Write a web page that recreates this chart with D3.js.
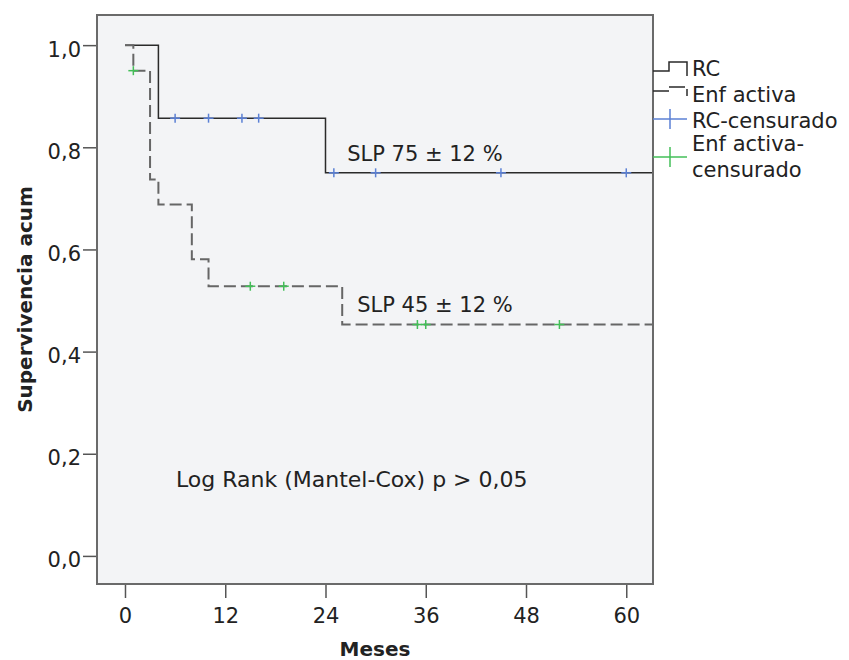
<!DOCTYPE html>
<html>
<head>
<meta charset="utf-8">
<script src="https://cdn.jsdelivr.net/npm/d3@7"></script>
<style>
    body { margin: 0; background: #fff; }
    text { font-family: "DejaVu Sans", sans-serif; fill: #222; }
</style>
</head>
<body>
<svg id="chart" width="849" height="660"></svg>
<script>

// Kaplan-Meier steps (months, cumulative survival)
var rcTimes = [0, 4, 24, 64];
var rcSurv = [1.0, 0.857, 0.75, 0.75];
var rcCensored = [6, 10, 14, 16, 25, 30, 45, 60];

var enfTimes = [0, 1, 3, 4, 8, 10, 26, 64];
var enfSurv = [1.0, 0.95, 0.737, 0.688, 0.581, 0.528, 0.453, 0.453];
var enfCensored = [1, 15, 19, 35, 36, 52];

var xTicks = [0, 12, 24, 36, 48, 60];
var yTicks = [0, 0.2, 0.4, 0.6, 0.8, 1.0];

var legendLabels = ["RC", "Enf activa", "RC-censurado", ["Enf activa-", "censurado"]];

var notes = [
    { t: 26.6, s: 0.773, label: "SLP 75 ± 12 %", size: 21 },
    { t: 27.8, s: 0.477, label: "SLP 45 ± 12 %", size: 21 },
    { t: 6.1, s: 0.134, label: "Log Rank (Mantel-Cox) p > 0,05", size: 22 }
];

var svg = d3.select("#chart");

var frame = { left: 97, right: 653, top: 15, bottom: 584 };

var x = d3.scaleLinear()
    .domain([-3.35, 63.2])
    .range([frame.left, frame.right]);

var y = d3.scaleLinear()
    .domain([-0.055, 1.059])
    .range([frame.bottom, frame.top]);

var comma = d3.formatLocale({ decimal: ",", thousands: ".", grouping: [3], currency: ["", "€"] });

// plot background
svg.append("rect")
    .attr("x", frame.left)
    .attr("y", frame.top)
    .attr("width", frame.right - frame.left)
    .attr("height", frame.bottom - frame.top)
    .style("fill", "#f3f4f6");

svg.append("clipPath")
    .attr("id", "clip")
    .append("rect")
    .attr("x", frame.left)
    .attr("y", frame.top)
    .attr("width", frame.right - frame.left)
    .attr("height", frame.bottom - frame.top);

// axes
var yAxis = svg.append("g")
    .attr("transform", "translate(" + frame.left + ",0)")
    .call(d3.axisLeft(y).tickValues(yTicks).tickSize(14).tickPadding(2)
        .tickFormat(comma.format(".1f")));

var xAxis = svg.append("g")
    .attr("transform", "translate(0," + frame.bottom + ")")
    .call(d3.axisBottom(x).tickValues(xTicks).tickSize(14).tickPadding(10));

[yAxis, xAxis].forEach(function(a) {
    a.select(".domain").remove();
    a.selectAll("line").attr("stroke", "#555").attr("stroke-width", 1.5);
    a.selectAll("text")
        .style("font-family", "DejaVu Sans")
        .style("font-size", "21px")
        .attr("fill", "#222");
});
yAxis.selectAll("text").attr("dy", "0.52em");

// curves
var step = d3.line()
    .x(function(d) { return x(d[0]); })
    .y(function(d) { return y(d[1]); })
    .curve(d3.curveStepAfter);

var curves = svg.append("g").attr("clip-path", "url(#clip)");

curves.append("path")
    .datum(d3.zip(rcTimes, rcSurv))
    .attr("d", step)
    .attr("fill", "none")
    .attr("stroke", "#2a2a2a")
    .attr("stroke-width", 1.5);

curves.append("path")
    .datum(d3.zip(enfTimes, enfSurv))
    .attr("d", step)
    .attr("fill", "none")
    .attr("stroke", "#666")
    .attr("stroke-width", 2)
    .attr("stroke-dasharray", "12,5");

// survival value at a given time for the step curve
function survAt(times, surv, t) {
    var i = d3.bisectRight(times, t) - 1;
    return surv[Math.max(i, 0)];
}

function drawCensor(g, times, surv, list, color) {
    var marks = g.selectAll(null)
        .data(list)
        .enter().append("g")
        .attr("transform", function(d) {
            return "translate(" + x(d) + "," + y(survAt(times, surv, d)) + ")";
        });
    marks.append("line")
        .attr("x1", -5).attr("x2", 5)
        .attr("stroke", color).attr("stroke-width", 1.5);
    marks.append("line")
        .attr("y1", -4.5).attr("y2", 4.5)
        .attr("stroke", color).attr("stroke-width", 1.5);
}

drawCensor(curves, rcTimes, rcSurv, rcCensored, "#5b80d5");
drawCensor(curves, enfTimes, enfSurv, enfCensored, "#43bf58");

// frame on top
svg.append("rect")
    .attr("x", frame.left)
    .attr("y", frame.top)
    .attr("width", frame.right - frame.left)
    .attr("height", frame.bottom - frame.top)
    .style("fill", "none")
    .style("stroke", "#6a6a6a")
    .style("stroke-width", 2);

// annotations
svg.selectAll(".note")
    .data(notes)
    .enter().append("text")
    .attr("class", "note")
    .attr("x", function(d) { return x(d.t); })
    .attr("y", function(d) { return y(d.s); })
    .style("font-size", function(d) { return d.size + "px"; })
    .text(function(d) { return d.label; });

// axis titles
svg.append("text")
    .attr("transform", "translate(32," + ((frame.top + frame.bottom) / 2) + ") rotate(-90)")
    .attr("text-anchor", "middle")
    .style("font-size", "20px")
    .style("font-weight", "bold")
    .text("Supervivencia acum");

svg.append("text")
    .attr("x", (frame.left + frame.right) / 2)
    .attr("y", 656)
    .attr("text-anchor", "middle")
    .style("font-size", "20px")
    .style("font-weight", "bold")
    .text("Meses");

// legend
var legend = svg.append("g").attr("transform", "translate(" + frame.right + ",0)");

legend.append("path")
    .attr("d", "M0,71 H16 V62 H34 V76")
    .attr("fill", "none").attr("stroke", "#2a2a2a").attr("stroke-width", 1.5);

legend.append("path")
    .attr("d", "M0,91 H16 V87 H34 V96")
    .attr("fill", "none").attr("stroke", "#2a2a2a").attr("stroke-width", 1.5)
    .attr("stroke-dasharray", "16,4");

[["#5b80d5", 119], ["#43bf58", 157]].forEach(function(c) {
    legend.append("line")
        .attr("x1", 0).attr("x2", 34).attr("y1", c[1]).attr("y2", c[1])
        .attr("stroke", c[0]).attr("stroke-width", 1.5);
    legend.append("line")
        .attr("x1", 17).attr("x2", 17).attr("y1", c[1] - 10).attr("y2", c[1] + 10)
        .attr("stroke", c[0]).attr("stroke-width", 1.5);
});

var legendY = [76, 102, 128, 151];
legendLabels.forEach(function(lab, i) {
    var t = legend.append("text")
        .attr("x", 39)
        .attr("y", legendY[i])
        .style("font-size", "21px");
    var lines = Array.isArray(lab) ? lab : [lab];
    lines.forEach(function(l, j) {
        t.append("tspan")
            .attr("x", 39)
            .attr("dy", j === 0 ? 0 : 26)
            .text(l);
    });
});

</script>
</body>
</html>
